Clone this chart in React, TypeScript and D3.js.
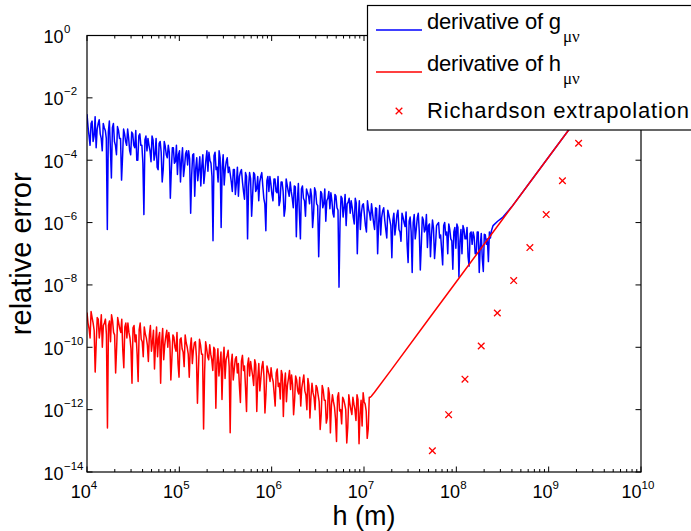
import React from 'react';
import * as d3 from 'd3';

const W = 691;
const H = 531;
const PLOT = { left: 87, right: 641, top: 35.5, bottom: 472 };

const xTickExps = [4, 5, 6, 7, 8, 9, 10];
const yTickExps = [0, -2, -4, -6, -8, -10, -12, -14];

// derivative of g_{mu nu}: noisy part, samples evenly spaced in log h between these ends.
// Samples alternate between the two lists (A0, B0, A1, B1, ...).
const gNoisyStartH = 1e4;
const gNoisyEndH = 2.4e8;
const gNoisyA = [
  3e-3, 6e-4, 1.5e-3, 4e-4, 2.5e-3, 1e-3, 2e-3, 5e-4, 1.5e-3, 9e-4,
  6e-7, 1.8e-3, 2.7e-5, 1.5e-3, 3e-4, 1.2e-3, 5e-4, 2.3e-5, 1e-3, 4e-4,
  1e-3, 2e-4, 8e-4, 3e-4, 9e-4, 1e-4, 7e-4, 3e-4, 1.8e-6, 6e-4,
  5e-4, 2e-4, 6e-4, 1e-4, 5e-4, 5e-5, 4e-4, 2e-5, 4e-4, 1.5e-4,
  3e-4, 6e-6, 2.5e-4, 8e-5, 3e-4, 1.5e-4, 2e-5, 2.5e-4, 6e-5, 2e-4,
  2e-4, 2e-6, 1.5e-4, 7e-6, 1.2e-4, 5e-5, 1.5e-5, 1.5e-4, 4e-5, 2e-4,
  1.8e-4, 8e-5, 2.6e-7, 1.8e-4, 6e-5, 2e-4, 7e-7, 1.5e-4, 5e-5, 1.2e-4,
  6e-5, 2e-5, 5e-5, 8e-6, 6e-5, 3e-5, 5e-5, 1e-5, 4e-5, 3e-7,
  4e-5, 1.6e-6, 4e-5, 1e-5, 3e-5, 2e-5, 4e-5, 6e-6, 5.5e-7, 3e-5,
  3e-5, 8e-6, 2.5e-5, 1e-5, 3e-5, 5e-6, 2e-5, 1.6e-6, 2.5e-5, 1e-5,
  2e-5, 6e-6, 1.5e-5, 3.5e-7, 1.8e-5, 3e-7, 1.5e-5, 5e-6, 1.2e-5, 7e-6,
  1.2e-5, 7e-7, 1.3e-5, 4e-6, 8e-8, 1e-5, 3e-6, 1.2e-5, 5e-6, 1e-5,
  9e-6, 2e-6, 8e-6, 3e-6, 8.5e-9, 7e-6, 1.5e-6, 8e-6, 4e-6, 6e-6,
  5e-6, 1.5e-6, 6e-6, 1e-7, 5e-6, 2e-6, 4e-6, 8e-7, 5e-6, 2e-6,
  4e-6, 1e-6, 3e-6, 1e-7, 3.5e-6, 1.5e-6, 3e-6, 6e-7, 2.5e-6, 1.2e-6,
  7.4e-8, 2e-6, 8e-7, 2.5e-6, 5e-7, 2e-6, 1e-6, 2.2e-6, 5.2e-8, 1.5e-6,
  2.5e-8, 1.8e-6, 6e-7, 2e-6, 3e-8, 1.5e-6, 5e-7, 1.8e-6, 8e-7, 8e-8,
  1.2e-6, 7e-8, 8e-7, 1e-6, 4e-7, 4.4e-8, 1e-6, 5e-7, 9e-7, 3e-7,
  3.2e-8, 7e-7, 9e-7, 1.8e-8, 6e-7, 8e-7, 3e-7, 7e-7, 4e-8, 5e-7,
  5e-7, 1e-7, 5e-7, 2.5e-8, 4.5e-7, 2.7e-8, 4e-7, 3e-7, 5e-7, 5.5e-7,
];
const gNoisyB = [
  1.2e-3, 3e-4, 1.8e-3, 6e-4, 2.5e-4, 1.5e-3, 7e-4, 2e-4, 1.1e-3, 5e-4,
  8e-4, 2.5e-4, 1.1e-3, 4e-4, 1.5e-4, 9e-4, 5e-4, 1.3e-4, 7e-4, 3e-4,
  5e-4, 1.5e-4, 7e-4, 2.5e-4, 1e-4, 6e-4, 3e-4, 8e-5, 4.5e-4, 2e-4,
  3e-4, 9e-5, 4.5e-4, 1.5e-4, 6e-5, 3.5e-4, 1.8e-4, 5e-5, 2.8e-4, 1.2e-4,
  1.8e-4, 5e-5, 2.5e-4, 9e-5, 3.5e-5, 2e-4, 1e-4, 3e-5, 1.6e-4, 7e-5,
  1.1e-4, 3.3e-5, 1.6e-4, 5.5e-5, 2.2e-5, 1.3e-4, 6.6e-5, 1.8e-5, 1e-4, 4.4e-5,
  1e-4, 3e-5, 1.4e-4, 5e-5, 2e-5, 1.2e-4, 6e-5, 1.6e-5, 9e-5, 4e-5,
  3.5e-5, 1e-5, 5e-5, 1.8e-5, 7e-6, 4.2e-5, 2e-5, 5.6e-6, 3e-5, 1.4e-5,
  2.5e-5, 7.5e-6, 3.5e-5, 1.2e-5, 5e-6, 3e-5, 1.5e-5, 4e-6, 2.2e-5, 1e-5,
  1.7e-5, 5e-6, 2.5e-5, 9e-6, 3.5e-6, 2e-5, 1e-5, 2.8e-6, 1.6e-5, 7e-6,
  1e-5, 3e-6, 1.4e-5, 5e-6, 2e-6, 1.2e-5, 6e-6, 1.6e-6, 9e-6, 4e-6,
  7e-6, 2e-6, 1e-5, 3.5e-6, 1.4e-6, 8.5e-6, 4e-6, 1.1e-6, 6e-6, 2.8e-6,
  5e-6, 1.5e-6, 7e-6, 2.5e-6, 1e-6, 6e-6, 3e-6, 8e-7, 4.5e-6, 2e-6,
  3e-6, 9e-7, 4.2e-6, 1.5e-6, 6e-7, 3.6e-6, 1.8e-6, 5e-7, 2.7e-6, 1.2e-6,
  2e-6, 6e-7, 2.8e-6, 1e-6, 4e-7, 2.4e-6, 1.2e-6, 3.2e-7, 1.8e-6, 8e-7,
  1.2e-6, 4e-7, 1.8e-6, 6e-7, 2.5e-7, 1.5e-6, 7.5e-7, 2e-7, 1.1e-6, 5e-7,
  1e-6, 3e-7, 1.4e-6, 5e-7, 2e-7, 1.2e-6, 6e-7, 1.6e-7, 9e-7, 4e-7,
  6.5e-7, 2e-7, 9e-7, 3.2e-7, 1.3e-7, 8e-7, 4e-7, 1e-7, 6e-7, 2.6e-7,
  5e-7, 1.5e-7, 7e-7, 2.5e-7, 1e-7, 6e-7, 3e-7, 8e-8, 4.5e-7, 2e-7,
  3.5e-7, 1e-7, 5e-7, 1.8e-7, 7e-8, 4.2e-7, 2e-7, 5.6e-8, 3.2e-7,
];
const gTailH = [2.5e8, 2.8e8, 3.2e8, 4e8, 6.3e8, 1e9, 3.2e9, 9.3e9];
const gTail = [8e-7, 1.1e-6, 1.5e-6, 3.25e-6, 2e-5, 1.27e-4, 1.33e-2, 0.95];

// derivative of h_{mu nu}
const hNoisyStartH = 1e4;
const hNoisyEndH = 1.2e7;
const hNoisyA = [
  1.3e-9, 4e-10, 1.4e-9, 6e-10, 1.6e-11, 9e-10, 2e-10, 1.1e-9, 5e-10, 8e-10,
  2.6e-13, 7e-10, 1.1e-9, 3e-10, 1.5e-11, 9e-10, 4e-10, 8e-10, 2.2e-11, 6e-10,
  6e-10, 2e-10, 7e-12, 5e-10, 2.5e-10, 8e-12, 6e-10, 1.5e-10, 4.5e-10, 2e-10,
  3.5e-11, 5e-10, 1.5e-10, 2e-11, 4.5e-10, 2e-10, 7e-12, 4e-10, 1.2e-10, 3.5e-10,
  3e-10, 9e-12, 2.5e-10, 1e-10, 3e-10, 1.1e-11, 2e-10, 7e-11, 2.5e-10, 1e-10,
  1.1e-11, 2e-10, 8e-11, 1.5e-10, 1.6e-12, 1.8e-10, 6e-11, 2.4e-13, 1.5e-10, 5e-11,
  1.2e-10, 4e-11, 1e-10, 1.1e-12, 9e-11, 3e-11, 2.1e-12, 1e-10, 4e-11, 8e-11,
  1.8e-13, 6e-11, 2e-11, 5e-11, 3e-11, 1.7e-12, 5.5e-11, 2.5e-11, 8.7e-13, 4.5e-11,
  3.5e-11, 1.2e-11, 4e-11, 8.7e-13, 3e-11, 1e-11, 3.5e-11, 7.8e-13, 2.5e-11, 1.3e-11,
  2.2e-11, 8e-12, 1.3e-12, 2e-11, 7e-12, 1.8e-11, 6e-13, 1.5e-11, 6e-12, 1.8e-11,
  1.3e-11, 6.9e-13, 1.2e-11, 4e-12, 1.1e-11, 5e-12, 1.3e-11, 3e-12, 1e-11, 5.4e-13,
  7e-12, 2.5e-12, 6e-12, 3e-12, 2.3e-13, 6e-12, 2e-12, 3.7e-13, 5e-12, 1.8e-13,
  3e-12, 1.2e-12, 9.5e-14, 3.5e-12, 1e-12, 2.5e-12, 1.5e-12, 8.5e-14, 3e-12, 1e-12,
  2.5e-12, 1e-12, 3e-12, 8e-14, 2e-12, 3.5e-12, 1.5e-12, 1.2e-13, 2.5e-12, 2.7e-12,
];
const hNoisyB = [
  6e-10, 2e-10, 9e-10, 3.5e-10, 1.3e-10, 8e-10, 4e-10, 1e-10, 6e-10, 2.6e-10,
  5e-10, 1.5e-10, 7e-10, 2.5e-10, 1e-10, 6e-10, 3e-10, 8e-11, 4.5e-10, 2e-10,
  3e-10, 9e-11, 4.2e-10, 1.5e-10, 6e-11, 3.6e-10, 1.8e-10, 5e-11, 2.7e-10, 1.2e-10,
  2.5e-10, 7.5e-11, 3.5e-10, 1.2e-10, 5e-11, 3e-10, 1.5e-10, 4e-11, 2.2e-10, 1e-10,
  1.5e-10, 4.5e-11, 2.1e-10, 7.5e-11, 3e-11, 1.8e-10, 9e-11, 2.4e-11, 1.4e-10, 6e-11,
  1e-10, 3e-11, 1.4e-10, 5e-11, 2e-11, 1.2e-10, 6e-11, 1.6e-11, 9e-11, 4e-11,
  6e-11, 1.8e-11, 8.5e-11, 3e-11, 1.2e-11, 7e-11, 3.6e-11, 1e-11, 5.4e-11, 2.4e-11,
  3e-11, 9e-12, 4.2e-11, 1.5e-11, 6e-12, 3.6e-11, 1.8e-11, 5e-12, 2.7e-11, 1.2e-11,
  2e-11, 6e-12, 2.8e-11, 1e-11, 4e-12, 2.4e-11, 1.2e-11, 3.2e-12, 1.8e-11, 8e-12,
  1.1e-11, 3.3e-12, 1.5e-11, 5.5e-12, 2.2e-12, 1.3e-11, 6.6e-12, 1.8e-12, 1e-11, 4.4e-12,
  6.5e-12, 2e-12, 9e-12, 3.2e-12, 1.3e-12, 8e-12, 4e-12, 1e-12, 6e-12, 2.6e-12,
  3.5e-12, 1e-12, 5e-12, 1.8e-12, 7e-13, 4.2e-12, 2e-12, 5.6e-13, 3.2e-12, 1.4e-12,
  1.8e-12, 5e-13, 2.5e-12, 9e-13, 3.5e-13, 2.1e-12, 1e-12, 2.8e-13, 1.6e-12, 7e-13,
  1.5e-12, 4.5e-13, 2.1e-12, 7.5e-13, 3e-13, 1.8e-12, 9e-13, 2.4e-13, 2.5e-12,
];
const hTailH = [1.3e7, 2e7, 5e7, 1e8, 3e8, 1e9, 3e9, 9.3e9];
const hTail = [3.6e-12, 2e-11, 7.9e-10, 1.27e-8, 1.02e-6, 1.27e-4, 1.02e-2, 0.95];

// Richardson extrapolation
const richH = [5.5e7, 8.25e7, 1.24e8, 1.86e8, 2.78e8, 4.18e8, 6.26e8, 9.4e8, 1.41e9, 2.11e9];
const richErr = [4.8e-14, 6.9e-13, 9.5e-12, 1.1e-10, 1.26e-9, 1.38e-8, 1.58e-7, 1.8e-6, 2.2e-5, 3.5e-4];

const legendLabels = ['derivative of g', 'derivative of h', 'Richardson extrapolation'];
const legendSub = 'μν';

const FONT = 'Liberation Sans, Arial, Helvetica, sans-serif';
const SERIF = 'Liberation Serif, Times New Roman, serif';

function interleave(a: number[], b: number[]): number[] {
  const out: number[] = [];
  a.forEach((v, i) => {
    out.push(v);
    if (i < b.length) out.push(b[i]);
  });
  return out;
}

function samplePositions(start: number, end: number, n: number): number[] {
  const idx = d3.scaleLinear().domain([0, n - 1]).range([Math.log10(start), Math.log10(end)]);
  return d3.range(n).map((i) => Math.pow(10, idx(i)));
}

export default function App() {
  const x = d3.scaleLog().domain([1e4, 1e10]).range([PLOT.left, PLOT.right]);
  const y = d3.scaleLog().domain([1e-14, 1]).range([PLOT.bottom, PLOT.top]);

  const gNoisy = interleave(gNoisyA, gNoisyB);
  const hNoisy = interleave(hNoisyA, hNoisyB);

  const gH = samplePositions(gNoisyStartH, gNoisyEndH, gNoisy.length).concat(gTailH);
  const gV = gNoisy.concat(gTail);
  const hH = samplePositions(hNoisyStartH, hNoisyEndH, hNoisy.length).concat(hTailH);
  const hV = hNoisy.concat(hTail);

  const line = d3
    .line<[number, number]>()
    .x((d) => x(d[0]))
    .y((d) => y(d[1]));

  const gPath = line(gH.map((h, i) => [h, gV[i]] as [number, number])) || '';
  const hPath = line(hH.map((h, i) => [h, hV[i]] as [number, number])) || '';

  const majorX = xTickExps.map((e) => Math.pow(10, e));
  const minorX: number[] = [];
  xTickExps.slice(0, -1).forEach((e) => {
    for (let m = 2; m <= 9; m++) minorX.push(m * Math.pow(10, e));
  });
  const majorY = yTickExps.map((e) => Math.pow(10, e));

  const mk = 3.3;

  return (
    <svg
      width={W}
      height={H}
      style={{ position: 'absolute', left: 0, top: 0, background: '#fff' }}
      fontFamily={FONT}
    >
      <rect x={0} y={0} width={W} height={H} fill="#fff" />
      <defs>
        <clipPath id="plotclip">
          <rect x={PLOT.left} y={PLOT.top} width={PLOT.right - PLOT.left} height={PLOT.bottom - PLOT.top} />
        </clipPath>
      </defs>

      {/* data */}
      <g clipPath="url(#plotclip)">
        <path d={gPath} fill="none" stroke="#0000ff" strokeWidth={1.5} strokeLinejoin="round" />
        <path d={hPath} fill="none" stroke="#ff0000" strokeWidth={1.5} strokeLinejoin="round" />
        {richH.map((h, i) => {
          const cx = x(h);
          const cy = y(richErr[i]);
          return (
            <path
              key={i}
              d={`M${cx - mk},${cy - mk}L${cx + mk},${cy + mk}M${cx - mk},${cy + mk}L${cx + mk},${cy - mk}`}
              stroke="#ff0000"
              strokeWidth={1.3}
            />
          );
        })}
      </g>

      {/* ticks */}
      <g stroke="#000" strokeWidth={1}>
        {majorX.map((v, i) => (
          <g key={'xm' + i}>
            <line x1={x(v)} x2={x(v)} y1={PLOT.bottom} y2={PLOT.bottom - 5.5} />
            <line x1={x(v)} x2={x(v)} y1={PLOT.top} y2={PLOT.top + 5.5} />
          </g>
        ))}
        {minorX.map((v, i) => (
          <g key={'xn' + i}>
            <line x1={x(v)} x2={x(v)} y1={PLOT.bottom} y2={PLOT.bottom - 3} />
            <line x1={x(v)} x2={x(v)} y1={PLOT.top} y2={PLOT.top + 3} />
          </g>
        ))}
        {majorY.map((v, i) => (
          <g key={'ym' + i}>
            <line x1={PLOT.left} x2={PLOT.left + 5.5} y1={y(v)} y2={y(v)} />
            <line x1={PLOT.right} x2={PLOT.right - 5.5} y1={y(v)} y2={y(v)} />
          </g>
        ))}
      </g>

      {/* frame */}
      <rect
        x={PLOT.left}
        y={PLOT.top}
        width={PLOT.right - PLOT.left}
        height={PLOT.bottom - PLOT.top}
        fill="none"
        stroke="#000"
        strokeWidth={1.2}
      />

      {/* x tick labels */}
      {xTickExps.map((e) => {
        const px = x(Math.pow(10, e));
        return (
          <text key={'xl' + e} x={px - 3} y={498} fontSize={18} textAnchor="middle" fill="#000">
            10
            <tspan dy={-9} fontSize={11.5}>{String(e)}</tspan>
          </text>
        );
      })}

      {/* y tick labels */}
      {yTickExps.map((e) => {
        const py = y(Math.pow(10, e));
        return (
          <g key={'yl' + e}>
            <text x={63.5} y={py + 7.5} fontSize={18} textAnchor="end" fill="#000">10</text>
            <text x={64} y={py - 2.5} fontSize={11.5} textAnchor="start" fill="#000">
              {e < 0 ? '\u2212' + String(-e) : String(e)}
            </text>
          </g>
        );
      })}

      {/* axis labels */}
      <text x={364} y={524.5} fontSize={27} textAnchor="middle" fill="#000">h (m)</text>
      <text
        transform={`translate(31,${(PLOT.top + PLOT.bottom) / 2}) rotate(-90)`}
        fontSize={29}
        textAnchor="middle"
        fill="#000"
      >
        relative error
      </text>

      {/* legend */}
      <g>
        <rect x={367.5} y={5.5} width={340} height={124.5} fill="#fff" stroke="#000" strokeWidth={1.2} />
        <line x1={376} x2={422} y1={30} y2={30} stroke="#0000ff" strokeWidth={1.6} />
        <text x={427} y={28.5} fontSize={22} fill="#000" textLength={134} lengthAdjust="spacing">
          {legendLabels[0]}
        </text>
        <text x={563} y={41.5} fontSize={17} fontFamily={SERIF} fill="#000">{legendSub}</text>
        <line x1={376} x2={422} y1={72} y2={72} stroke="#ff0000" strokeWidth={1.6} />
        <text x={427} y={71} fontSize={22} fill="#000" textLength={134} lengthAdjust="spacing">
          {legendLabels[1]}
        </text>
        <text x={563} y={84} fontSize={17} fontFamily={SERIF} fill="#000">{legendSub}</text>
        <path
          d={`M${399 - mk},${111 - mk}L${399 + mk},${111 + mk}M${399 - mk},${111 + mk}L${399 + mk},${111 - mk}`}
          stroke="#ff0000"
          strokeWidth={1.3}
        />
        <text x={427} y={118} fontSize={22} fill="#000" textLength={262} lengthAdjust="spacing">
          {legendLabels[2]}
        </text>
      </g>
    </svg>
  );
}
